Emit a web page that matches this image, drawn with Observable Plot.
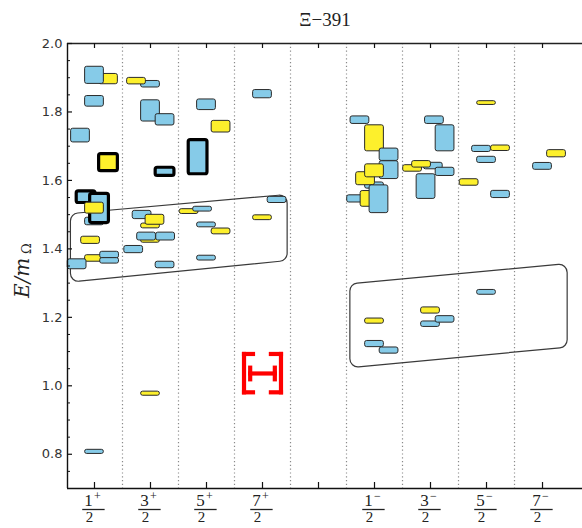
<!DOCTYPE html>
<html><head><meta charset="utf-8">
<script src="https://cdn.jsdelivr.net/npm/d3@7"></script>
<script src="https://cdn.jsdelivr.net/npm/@observablehq/plot@0.6"></script>
<style>body{margin:0;background:#fff}#chart svg{display:block}</style>
</head><body><div id="chart"></div>
<script>
// ---------- data ----------
const title = "Ξ−391";
const yTicks = [0.8, 1.0, 1.2, 1.4, 1.6, 1.8, 2.0];
const colIndex = [0, 1, 2, 3, 4, 5, 6, 7, 8];
const numerators = ["1", "3", "5", "7", "", "1", "3", "5", "7"];
const parities = ["+", "+", "+", "+", "", "−", "−", "−", "−"];
const denominators = ["2", "2", "2", "2", "", "2", "2", "2", "2"];

// each row: [slot offset in column, E/mΩ centre, E/mΩ extent, colour key, heavy outline]
const levels_1p = [
  [0.25, 1.896, 0.030, "y", 0], [0, 1.907, 0.050, "b", 0], [0, 1.831, 0.031, "b", 0],
  [-0.25, 1.731, 0.040, "b", 0], [0.25, 1.652, 0.050, "y", 1], [0, 1.480, 0.022, "b", 0],
  [-0.15, 1.551, 0.034, "b", 1], [0.09, 1.518, 0.085, "b", 1], [0, 1.519, 0.032, "y", 0],
  [-0.07, 1.425, 0.021, "y", 0], [0, 1.372, 0.019, "y", 0], [0.27, 1.382, 0.019, "b", 0],
  [0.27, 1.365, 0.016, "b", 0], [-0.31, 1.355, 0.029, "b", 0], [0, 0.807, 0.012, "b", 0]
];
const levels_3p = [
  [0, 1.881, 0.019, "b", 0], [-0.25, 1.890, 0.019, "y", 0], [0, 1.803, 0.062, "b", 0],
  [0.26, 1.777, 0.033, "b", 0], [0.26, 1.625, 0.024, "b", 1], [-0.15, 1.499, 0.024, "b", 0],
  [0, 1.467, 0.014, "y", 0], [0.08, 1.485, 0.029, "y", 0], [0, 1.424, 0.012, "y", 0],
  [-0.07, 1.436, 0.023, "b", 0], [0.27, 1.436, 0.023, "b", 0], [-0.3, 1.398, 0.021, "b", 0],
  [0.26, 1.353, 0.019, "b", 0], [0, 0.977, 0.012, "y", 0]
];
const levels_5p = [
  [0, 1.821, 0.031, "b", 0], [0.26, 1.757, 0.034, "y", 0], [-0.15, 1.668, 0.100, "b", 1],
  [-0.31, 1.509, 0.014, "y", 0], [-0.07, 1.516, 0.014, "b", 0], [0, 1.470, 0.014, "b", 0],
  [0.26, 1.451, 0.017, "y", 0], [0, 1.373, 0.014, "b", 0]
];
const levels_7p = [
  [0, 1.852, 0.024, "b", 0], [0.26, 1.543, 0.018, "b", 0], [0, 1.491, 0.014, "y", 0]
];
const levels_1m = [
  [-0.26, 1.776, 0.022, "b", 0], [0, 1.723, 0.076, "y", 0], [0.26, 1.675, 0.036, "b", 0],
  [0.26, 1.630, 0.052, "b", 0], [0, 1.585, 0.018, "b", 0], [-0.16, 1.605, 0.038, "y", 0],
  [0, 1.628, 0.038, "y", 0], [-0.32, 1.546, 0.021, "b", 0], [-0.08, 1.546, 0.046, "y", 0],
  [0.08, 1.545, 0.081, "b", 0], [0, 1.189, 0.015, "y", 0], [0, 1.122, 0.018, "b", 0],
  [0.26, 1.103, 0.018, "b", 0]
];
const levels_3m = [
  [0.07, 1.776, 0.022, "b", 0], [0.26, 1.723, 0.076, "b", 0], [0.05, 1.642, 0.019, "b", 0],
  [-0.32, 1.635, 0.019, "y", 0], [-0.16, 1.647, 0.019, "y", 0], [0.26, 1.625, 0.024, "b", 0],
  [-0.08, 1.582, 0.072, "b", 0], [0, 1.220, 0.018, "y", 0], [0, 1.180, 0.016, "b", 0],
  [0.26, 1.194, 0.019, "b", 0]
];
const levels_5m = [
  [0, 1.826, 0.011, "y", 0], [-0.09, 1.692, 0.018, "b", 0], [0.25, 1.694, 0.016, "y", 0],
  [0, 1.660, 0.018, "b", 0], [-0.31, 1.594, 0.019, "y", 0], [0.25, 1.559, 0.021, "b", 0],
  [0, 1.273, 0.014, "b", 0]
];
const levels_7m = [
  [0.25, 1.678, 0.021, "y", 0], [0, 1.641, 0.020, "b", 0]
];

// enclosing outlines (column units, E/mΩ)
const enclosePositive = [[-0.43, 1.503], [3.44, 1.559], [3.44, 1.366], [-0.43, 1.303]];
const encloseNegative = [[4.56, 1.298], [8.44, 1.357], [8.44, 1.113], [4.56, 1.053]];

// red Ξ marker
const xiColumn = 3;
const xiRange = [0.981, 1.093];
const xiBar = [1.019, 1.036, 1.053];

// ---------- build ----------
const BLUE = "#86cbe8", YELLOW = "#fdf02c";
const W = 0.335;
const colLevels = [[0, levels_1p], [1, levels_3p], [2, levels_5p], [3, levels_7p],
                   [5, levels_1m], [6, levels_3m], [7, levels_5m], [8, levels_7m]];
const boxes = colLevels.flatMap(([c, rows]) => rows.map(([slot, E, dE, kind, heavy]) => ({c, slot, E, dE, kind, heavy})));

function roundedClosed(context) {
  const pts = [];
  const r = 8;
  return {
    areaStart() {}, areaEnd() {},
    lineStart() { pts.length = 0; },
    point(x, y) { pts.push([+x, +y]); },
    lineEnd() {
      const n = pts.length;
      if (n < 3) return;
      const a = pts[n - 1], b = pts[0];
      context.moveTo((a[0] + b[0]) / 2, (a[1] + b[1]) / 2);
      for (let i = 0; i < n; i++) {
        const p = pts[i], q = pts[(i + 1) % n];
        context.arcTo(p[0], p[1], q[0], q[1], r);
      }
      context.closePath();
    }
  };
}

const c = xiColumn;
const xiSegs = [
  {x1: c - 0.33, y1: xiRange[0], x2: c - 0.33, y2: xiRange[1]},
  {x1: c - 0.33, y1: xiRange[1], x2: c - 0.17, y2: xiRange[1]},
  {x1: c - 0.33, y1: xiRange[0], x2: c - 0.17, y2: xiRange[0]},
  {x1: c + 0.33, y1: xiRange[0], x2: c + 0.33, y2: xiRange[1]},
  {x1: c + 0.33, y1: xiRange[1], x2: c + 0.15, y2: xiRange[1]},
  {x1: c + 0.33, y1: xiRange[0], x2: c + 0.15, y2: xiRange[0]},
  {x1: c - 0.22, y1: xiBar[1], x2: c + 0.22, y2: xiBar[1]},
  {x1: c - 0.22, y1: xiBar[0], x2: c - 0.22, y2: xiBar[2]},
  {x1: c + 0.22, y1: xiBar[0], x2: c + 0.22, y2: xiBar[2]}
];

const labelled = colIndex.filter(i => numerators[i] !== "");
const minorTicks = d3.range(0.75, 2.0, 0.05).map(v => +v.toFixed(2)).filter(v => !yTicks.some(t => Math.abs(t - v) < 1e-6));
const frameW = 582 - 67, frameH = 488 - 43;
const serif = "'Liberation Serif', 'DejaVu Serif', serif";

const chart = Plot.plot({
  width: 582, height: 528,
  marginLeft: 67, marginRight: 0, marginTop: 43, marginBottom: 40,
  x: {type: "linear", domain: [-0.482, 8.714], axis: null},
  y: {type: "linear", domain: [0.7, 2.0], axis: null},
  style: {background: "white", overflow: "visible"},
  marks: [
    Plot.ruleX([0.5, 1.5, 2.5, 3.5, 4.5, 5.5, 6.5, 7.5], {stroke: "#8a8a8a", strokeWidth: 1.2, strokeDasharray: "1.2,2.6"}),
    Plot.line(enclosePositive, {x: d => d[0], y: d => d[1], curve: roundedClosed, stroke: "#3a3a3a", strokeWidth: 1.2, fill: "none"}),
    Plot.line(encloseNegative, {x: d => d[0], y: d => d[1], curve: roundedClosed, stroke: "#3a3a3a", strokeWidth: 1.2, fill: "none"}),
    Plot.rect(boxes, {
      x1: d => d.c + d.slot - W / 2, x2: d => d.c + d.slot + W / 2,
      y1: d => d.E - d.dE / 2, y2: d => d.E + d.dE / 2,
      fill: d => d.kind === "b" ? BLUE : YELLOW,
      stroke: d => d.heavy ? "#000" : "#2a2a2a",
      strokeWidth: d => d.heavy ? 3.2 : 1,
      rx: 2
    }),
    Plot.link(xiSegs, {x1: "x1", y1: "y1", x2: "x2", y2: "y2", stroke: "#ff0000", strokeWidth: 4.2, strokeLinecap: "square"}),
    // spines
    Plot.ruleX([-0.482], {stroke: "#111", strokeWidth: 1.4}),
    Plot.ruleY([0.7], {stroke: "#111", strokeWidth: 1.4}),
    Plot.ruleY([2.0], {stroke: "#222", strokeWidth: 1.6}),
    // ticks (inward)
    Plot.ruleX(colIndex, {stroke: "#111", strokeWidth: 1.2, insetTop: frameH - 6}),
    Plot.ruleX(colIndex, {stroke: "#111", strokeWidth: 1.2, insetBottom: frameH - 5}),
    Plot.ruleY(yTicks, {stroke: "#111", strokeWidth: 1.2, insetRight: frameW - 5}),
    Plot.ruleY(minorTicks, {stroke: "#111", strokeWidth: 1, insetRight: frameW - 3}),
    // y tick labels
    Plot.text(yTicks, {y: d => d, text: d => d.toFixed(1), frameAnchor: "left", dx: -5, textAnchor: "end", fontSize: 13, fontFamily: "'DejaVu Sans', sans-serif", fill: "#333"}),
    // x tick labels as fractions
    Plot.text(labelled, {x: d => d, text: d => numerators[d], frameAnchor: "bottom", dx: -6, dy: 12, lineAnchor: "middle", fontSize: 17, fontFamily: serif, fill: "#222"}),
    Plot.text(labelled, {x: d => d, text: d => parities[d], frameAnchor: "bottom", dx: 3, dy: 8, lineAnchor: "middle", fontSize: 12, fontFamily: serif, fill: "#222"}),
    Plot.ruleY(labelled, {x1: d => d - 0.21, x2: d => d + 0.19, y: () => 0.7, dy: 21, stroke: "#222", strokeWidth: 1.3}),
    Plot.text(labelled, {x: d => d, text: d => denominators[d], frameAnchor: "bottom", dx: -5, dy: 29, lineAnchor: "middle", fontSize: 15, fontFamily: serif, fill: "#222"}),
    // title
    Plot.text([title], {frameAnchor: "top", dy: -24, lineAnchor: "middle", fontSize: 19, fontFamily: serif, fill: "#222"}),
    // y label
    Plot.text(["E/m"], {frameAnchor: "left", rotate: -90, dx: -45, dy: 32, textAnchor: "start", lineAnchor: "middle", fontSize: 20, fontStyle: "italic", fontFamily: "'DejaVu Serif', serif", fill: "#222"}),
    Plot.text(["Ω"], {frameAnchor: "left", rotate: -90, dx: -41, dy: -12, textAnchor: "start", lineAnchor: "middle", fontSize: 13, fontFamily: "'DejaVu Serif', serif", fill: "#222"})
  ]
});
document.getElementById("chart").appendChild(chart);
</script>
</body></html>
